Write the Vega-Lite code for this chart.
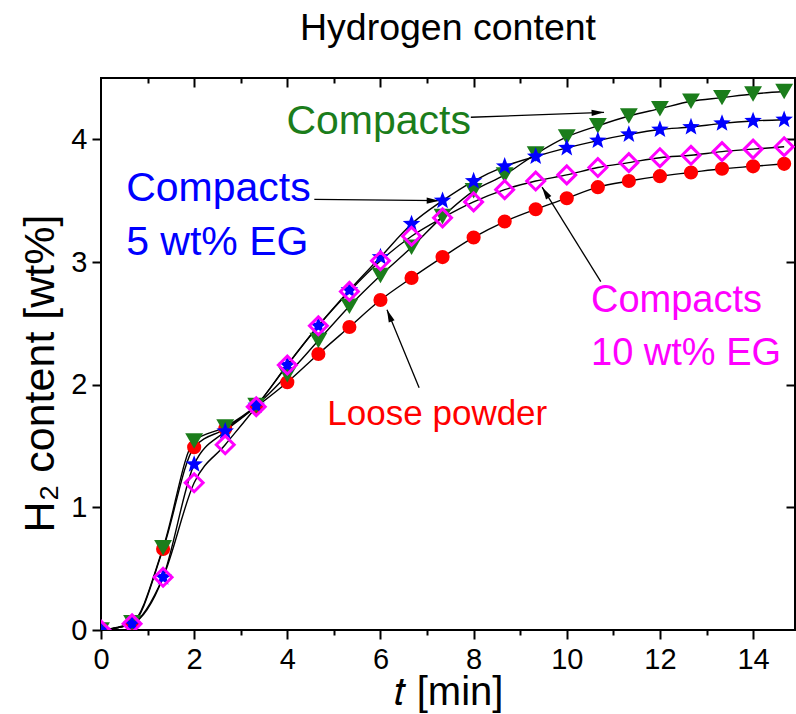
{
  "$schema": "https://vega.github.io/schema/vega-lite/v6.json",
  "width": 694,
  "height": 552,
  "autosize": {"type": "none"},
  "padding": {"left": 101, "top": 78, "right": 1, "bottom": 84},
  "background": "white",
  "title": {"text": "Hydrogen content", "fontSize": 37.5, "font": "Liberation Sans", "fontWeight": "normal", "color": "black", "offset": 0, "anchor": "middle", "frame": "group", "baseline": "alphabetic"},
  "config": {"view": {"stroke": "black", "strokeWidth": 2}, "font": "Liberation Sans"},
  "datasets": {
    "kinetics": [
      {"series": "Loose powder", "t": 0, "h": 0}, {"series": "Loose powder", "t": 0.667, "h": 0.05}, {"series": "Loose powder", "t": 1.333, "h": 0.66}, {"series": "Loose powder", "t": 2, "h": 1.49}, {"series": "Loose powder", "t": 2.667, "h": 1.64}, {"series": "Loose powder", "t": 3.333, "h": 1.82}, {"series": "Loose powder", "t": 4, "h": 2.02}, {"series": "Loose powder", "t": 4.667, "h": 2.25}, {"series": "Loose powder", "t": 5.333, "h": 2.47}, {"series": "Loose powder", "t": 6, "h": 2.69}, {"series": "Loose powder", "t": 6.667, "h": 2.87}, {"series": "Loose powder", "t": 7.333, "h": 3.04}, {"series": "Loose powder", "t": 8, "h": 3.2}, {"series": "Loose powder", "t": 8.667, "h": 3.33}, {"series": "Loose powder", "t": 9.333, "h": 3.43}, {"series": "Loose powder", "t": 10, "h": 3.52}, {"series": "Loose powder", "t": 10.667, "h": 3.61}, {"series": "Loose powder", "t": 11.333, "h": 3.66}, {"series": "Loose powder", "t": 12, "h": 3.7}, {"series": "Loose powder", "t": 12.667, "h": 3.73}, {"series": "Loose powder", "t": 13.333, "h": 3.76}, {"series": "Loose powder", "t": 14, "h": 3.78}, {"series": "Loose powder", "t": 14.667, "h": 3.8},
      {"series": "Compacts", "t": 0, "h": 0}, {"series": "Compacts", "t": 0.667, "h": 0.06}, {"series": "Compacts", "t": 1.333, "h": 0.67}, {"series": "Compacts", "t": 2, "h": 1.54}, {"series": "Compacts", "t": 2.667, "h": 1.655}, {"series": "Compacts", "t": 3.333, "h": 1.83}, {"series": "Compacts", "t": 4, "h": 2.08}, {"series": "Compacts", "t": 4.667, "h": 2.36}, {"series": "Compacts", "t": 5.333, "h": 2.64}, {"series": "Compacts", "t": 6, "h": 2.89}, {"series": "Compacts", "t": 6.667, "h": 3.12}, {"series": "Compacts", "t": 7.333, "h": 3.37}, {"series": "Compacts", "t": 8, "h": 3.58}, {"series": "Compacts", "t": 8.667, "h": 3.71}, {"series": "Compacts", "t": 9.333, "h": 3.88}, {"series": "Compacts", "t": 10, "h": 4.02}, {"series": "Compacts", "t": 10.667, "h": 4.11}, {"series": "Compacts", "t": 11.333, "h": 4.19}, {"series": "Compacts", "t": 12, "h": 4.25}, {"series": "Compacts", "t": 12.667, "h": 4.31}, {"series": "Compacts", "t": 13.333, "h": 4.34}, {"series": "Compacts", "t": 14, "h": 4.37}, {"series": "Compacts", "t": 14.667, "h": 4.39},
      {"series": "Compacts 5 wt% EG", "t": 0, "h": 0}, {"series": "Compacts 5 wt% EG", "t": 0.667, "h": 0.05}, {"series": "Compacts 5 wt% EG", "t": 1.333, "h": 0.43}, {"series": "Compacts 5 wt% EG", "t": 2, "h": 1.35}, {"series": "Compacts 5 wt% EG", "t": 2.667, "h": 1.62}, {"series": "Compacts 5 wt% EG", "t": 3.333, "h": 1.83}, {"series": "Compacts 5 wt% EG", "t": 4, "h": 2.16}, {"series": "Compacts 5 wt% EG", "t": 4.667, "h": 2.48}, {"series": "Compacts 5 wt% EG", "t": 5.333, "h": 2.77}, {"series": "Compacts 5 wt% EG", "t": 6, "h": 3.04}, {"series": "Compacts 5 wt% EG", "t": 6.667, "h": 3.31}, {"series": "Compacts 5 wt% EG", "t": 7.333, "h": 3.5}, {"series": "Compacts 5 wt% EG", "t": 8, "h": 3.66}, {"series": "Compacts 5 wt% EG", "t": 8.667, "h": 3.78}, {"series": "Compacts 5 wt% EG", "t": 9.333, "h": 3.86}, {"series": "Compacts 5 wt% EG", "t": 10, "h": 3.93}, {"series": "Compacts 5 wt% EG", "t": 10.667, "h": 3.99}, {"series": "Compacts 5 wt% EG", "t": 11.333, "h": 4.04}, {"series": "Compacts 5 wt% EG", "t": 12, "h": 4.08}, {"series": "Compacts 5 wt% EG", "t": 12.667, "h": 4.1}, {"series": "Compacts 5 wt% EG", "t": 13.333, "h": 4.13}, {"series": "Compacts 5 wt% EG", "t": 14, "h": 4.15}, {"series": "Compacts 5 wt% EG", "t": 14.667, "h": 4.16},
      {"series": "Compacts 10 wt% EG", "t": 0, "h": 0}, {"series": "Compacts 10 wt% EG", "t": 0.667, "h": 0.05}, {"series": "Compacts 10 wt% EG", "t": 1.333, "h": 0.43}, {"series": "Compacts 10 wt% EG", "t": 2, "h": 1.2}, {"series": "Compacts 10 wt% EG", "t": 2.667, "h": 1.51}, {"series": "Compacts 10 wt% EG", "t": 3.333, "h": 1.82}, {"series": "Compacts 10 wt% EG", "t": 4, "h": 2.16}, {"series": "Compacts 10 wt% EG", "t": 4.667, "h": 2.48}, {"series": "Compacts 10 wt% EG", "t": 5.333, "h": 2.76}, {"series": "Compacts 10 wt% EG", "t": 6, "h": 3.01}, {"series": "Compacts 10 wt% EG", "t": 6.667, "h": 3.21}, {"series": "Compacts 10 wt% EG", "t": 7.333, "h": 3.36}, {"series": "Compacts 10 wt% EG", "t": 8, "h": 3.49}, {"series": "Compacts 10 wt% EG", "t": 8.667, "h": 3.59}, {"series": "Compacts 10 wt% EG", "t": 9.333, "h": 3.66}, {"series": "Compacts 10 wt% EG", "t": 10, "h": 3.71}, {"series": "Compacts 10 wt% EG", "t": 10.667, "h": 3.77}, {"series": "Compacts 10 wt% EG", "t": 11.333, "h": 3.81}, {"series": "Compacts 10 wt% EG", "t": 12, "h": 3.85}, {"series": "Compacts 10 wt% EG", "t": 12.667, "h": 3.87}, {"series": "Compacts 10 wt% EG", "t": 13.333, "h": 3.9}, {"series": "Compacts 10 wt% EG", "t": 14, "h": 3.92}, {"series": "Compacts 10 wt% EG", "t": 14.667, "h": 3.94}
    ],
    "labels": [
      {"text": "Compacts", "t": 3.98, "h": 4.04, "series": "Compacts"},
      {"text": "Compacts", "t": 0.54, "h": 3.5, "series": "Compacts 5 wt% EG"},
      {"text": "5 wt% EG", "t": 0.54, "h": 3.06, "series": "Compacts 5 wt% EG"},
      {"text": "Compacts", "t": 10.52, "h": 2.59, "series": "Compacts 10 wt% EG"},
      {"text": "10 wt% EG", "t": 10.52, "h": 2.16, "series": "Compacts 10 wt% EG"},
      {"text": "Loose powder", "t": 4.86, "h": 1.67, "series": "Loose powder"}
    ],
    "arrows": [
      {"id": "Compacts", "t0": 7.94, "h0": 4.18, "t1": 10.8, "h1": 4.22},
      {"id": "Compacts 5 wt% EG", "t0": 4.58, "h0": 3.51, "t1": 7.26, "h1": 3.5},
      {"id": "Compacts 10 wt% EG", "t0": 10.73, "h0": 2.84, "t1": 9.47, "h1": 3.61},
      {"id": "Loose powder", "t0": 6.83, "h0": 1.975, "t1": 6.14, "h1": 2.61}
    ]
  },
  "layer": [
    {
      "data": {"name": "kinetics"},
      "mark": {"type": "line", "interpolate": "monotone", "color": "black", "strokeWidth": 1.4, "clip": true},
      "encoding": {
        "x": {"field": "t", "type": "quantitative", "scale": {"domain": [0, 14.9], "nice": false, "zero": false},
          "axis": {"orient": "bottom", "values": [0, 1, 2, 3, 4, 5, 6, 7, 8, 9, 10, 11, 12, 13, 14], "labelExpr": "datum.value % 2 === 0 ? datum.label : ''",
            "tickSize": {"condition": {"test": "datum.value % 2 === 0", "value": 9}, "value": 5},
            "tickWidth": 2, "tickColor": "black", "domain": false, "grid": false,
            "labelFontSize": 29, "labelColor": "black", "labelPadding": 6, "labelOverlap": false, "labelFlush": false, "labelBound": false,
            "title": "𝑡 [min]", "titleFontSize": 40, "titleFontWeight": "normal", "titleColor": "black", "titlePadding": -2}},
        "y": {"field": "h", "type": "quantitative", "scale": {"domain": [0, 4.5], "nice": false},
          "axis": {"orient": "left", "values": [0, 1, 2, 3, 4], "tickSize": 9, "tickWidth": 2, "tickColor": "black", "domain": false, "grid": false,
            "labelFontSize": 29, "labelColor": "black", "labelPadding": 5,
            "title": "H₂ content [wt%]", "titleFontSize": 43, "titleFontWeight": "normal", "titleColor": "black", "titlePadding": 8, "titleY": 295}},
        "detail": {"field": "series", "type": "nominal"}
      }
    },
    {
      "mark": {"type": "rule", "color": "black", "strokeWidth": 2.5, "strokeDash": [10, 7]},
      "encoding": {
        "x": {"datum": 10, "type": "quantitative", "axis": null},
        "y": {"datum": 0, "type": "quantitative", "axis": null},
        "y2": {"datum": 4.5}
      }
    },
    {
      "data": {"name": "arrows"},
      "mark": {"type": "rule", "color": "black", "strokeWidth": 1.3},
      "encoding": {
        "x": {"field": "t0", "type": "quantitative", "axis": null},
        "y": {"field": "h0", "type": "quantitative", "axis": null},
        "x2": {"field": "t1"},
        "y2": {"field": "h1"}
      }
    },
    {
      "data": {"name": "arrows"},
      "transform": [{"filter": "datum.id === 'Compacts'"}],
      "mark": {"type": "point", "shape": "M0,0 L0.25,1 L-0.25,1 Z", "size": 620, "filled": true, "color": "black", "opacity": 1, "angle": 88},
      "encoding": {"x": {"field": "t1", "type": "quantitative", "axis": null}, "y": {"field": "h1", "type": "quantitative", "axis": null}}
    },
    {
      "data": {"name": "arrows"},
      "transform": [{"filter": "datum.id === 'Compacts 5 wt% EG'"}],
      "mark": {"type": "point", "shape": "M0,0 L0.25,1 L-0.25,1 Z", "size": 620, "filled": true, "color": "black", "opacity": 1, "angle": 90},
      "encoding": {"x": {"field": "t1", "type": "quantitative", "axis": null}, "y": {"field": "h1", "type": "quantitative", "axis": null}}
    },
    {
      "data": {"name": "arrows"},
      "transform": [{"filter": "datum.id === 'Compacts 10 wt% EG'"}],
      "mark": {"type": "point", "shape": "M0,0 L0.25,1 L-0.25,1 Z", "size": 620, "filled": true, "color": "black", "opacity": 1, "angle": 328},
      "encoding": {"x": {"field": "t1", "type": "quantitative", "axis": null}, "y": {"field": "h1", "type": "quantitative", "axis": null}}
    },
    {
      "data": {"name": "arrows"},
      "transform": [{"filter": "datum.id === 'Loose powder'"}],
      "mark": {"type": "point", "shape": "M0,0 L0.25,1 L-0.25,1 Z", "size": 620, "filled": true, "color": "black", "opacity": 1, "angle": 338},
      "encoding": {"x": {"field": "t1", "type": "quantitative", "axis": null}, "y": {"field": "h1", "type": "quantitative", "axis": null}}
    },
    {
      "data": {"name": "kinetics"},
      "transform": [{"filter": "datum.series === 'Loose powder'"}],
      "mark": {"type": "point", "shape": "circle", "filled": true, "color": "#ff0000", "size": 200, "opacity": 1, "clip": true},
      "encoding": {
        "x": {"field": "t", "type": "quantitative",
          "axis": {"orient": "top", "values": [1, 2, 3, 4, 5, 6, 7, 8, 9, 10, 11, 12, 13, 14], "labels": false, "domain": false, "grid": false, "title": null,
            "tickSize": {"condition": {"test": "datum.value % 2 === 0", "value": -9}, "value": -5}, "tickWidth": 2, "tickColor": "black"}},
        "y": {"field": "h", "type": "quantitative",
          "axis": {"orient": "right", "values": [1, 2, 3, 4], "labels": false, "domain": false, "grid": false, "title": null, "tickSize": -9, "tickWidth": 2, "tickColor": "black"}}
      }
    },
    {
      "data": {"name": "kinetics"},
      "transform": [{"filter": "datum.series === 'Compacts'"}],
      "mark": {"type": "point", "shape": "triangle-down", "filled": true, "color": "#1b7d1b", "size": 320, "opacity": 1, "clip": true},
      "encoding": {"x": {"field": "t", "type": "quantitative", "axis": null}, "y": {"field": "h", "type": "quantitative", "axis": null}}
    },
    {
      "data": {"name": "kinetics"},
      "transform": [{"filter": "datum.series === 'Compacts 5 wt% EG'"}],
      "mark": {"type": "point", "shape": "M0,-1L0.247,-0.34L0.951,-0.309L0.399,0.13L0.588,0.809L0,0.42L-0.588,0.809L-0.399,0.13L-0.951,-0.309L-0.247,-0.34Z", "filled": true, "color": "#0000ff", "size": 340, "opacity": 1, "clip": true},
      "encoding": {"x": {"field": "t", "type": "quantitative", "axis": null}, "y": {"field": "h", "type": "quantitative", "axis": null}}
    },
    {
      "data": {"name": "kinetics"},
      "transform": [{"filter": "datum.series === 'Compacts 10 wt% EG'"}],
      "mark": {"type": "point", "shape": "diamond", "filled": false, "color": "#ff00ff", "strokeWidth": 3, "size": 320, "opacity": 1, "clip": true},
      "encoding": {"x": {"field": "t", "type": "quantitative", "axis": null}, "y": {"field": "h", "type": "quantitative", "axis": null}}
    },
    {
      "data": {"name": "labels"},
      "transform": [{"filter": "datum.series === 'Compacts' || datum.series === 'Compacts 5 wt% EG'"}],
      "mark": {"type": "text", "align": "left", "baseline": "alphabetic", "fontSize": 41},
      "encoding": {
        "x": {"field": "t", "type": "quantitative", "axis": null},
        "y": {"field": "h", "type": "quantitative", "axis": null},
        "text": {"field": "text"},
        "color": {"field": "series", "type": "nominal", "legend": null, "scale": {"domain": ["Loose powder", "Compacts", "Compacts 5 wt% EG", "Compacts 10 wt% EG"], "range": ["#ff0000", "#1b7d1b", "#0000ff", "#ff00ff"]}}
      }
    },
    {
      "data": {"name": "labels"},
      "transform": [{"filter": "datum.series === 'Compacts 10 wt% EG'"}],
      "mark": {"type": "text", "align": "left", "baseline": "alphabetic", "fontSize": 38},
      "encoding": {
        "x": {"field": "t", "type": "quantitative", "axis": null},
        "y": {"field": "h", "type": "quantitative", "axis": null},
        "text": {"field": "text"},
        "color": {"field": "series", "type": "nominal", "legend": null}
      }
    },
    {
      "data": {"name": "labels"},
      "transform": [{"filter": "datum.series === 'Loose powder'"}],
      "mark": {"type": "text", "align": "left", "baseline": "alphabetic", "fontSize": 35},
      "encoding": {
        "x": {"field": "t", "type": "quantitative", "axis": null},
        "y": {"field": "h", "type": "quantitative", "axis": null},
        "text": {"field": "text"},
        "color": {"field": "series", "type": "nominal", "legend": null}
      }
    }
  ],
  "resolve": {"axis": {"x": "independent", "y": "independent"}}
}
